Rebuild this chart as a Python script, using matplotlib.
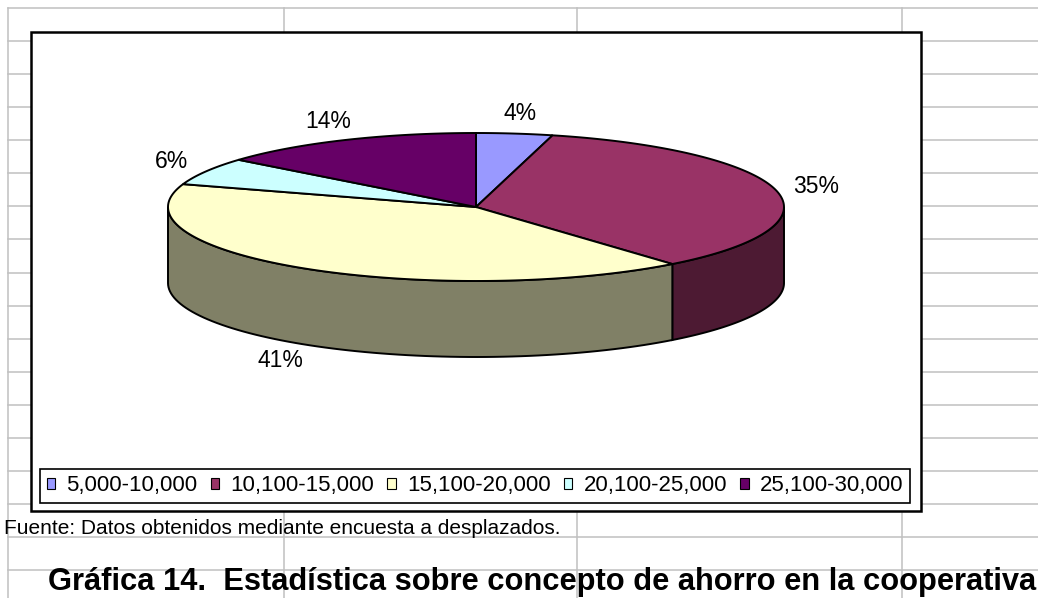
import numpy as np
import matplotlib.pyplot as plt
from matplotlib.patches import Polygon, Rectangle, Patch
from matplotlib.colors import to_rgb

plt.rcParams['font.family'] = ['Liberation Sans', 'DejaVu Sans']

# ---------------------- Data ----------------------
rangos = ["5,000-10,000", "10,100-15,000", "15,100-20,000", "20,100-25,000", "25,100-30,000"]
porcentajes = [4, 35, 41, 6, 14]
colores = ["#9999FF", "#993366", "#FFFFCC", "#CCFFFF", "#660066"]
fuente = "Fuente: Datos obtenidos mediante encuesta a desplazados."
titulo = "Gráfica 14.  Estadística sobre concepto de ahorro en la cooperativa"

# ---------------------- Canvas in pixel coordinates ----------------------
W, H = 1038, 598
fig = plt.figure(figsize=(W / 100, H / 100), dpi=100)
ax = fig.add_axes([0, 0, 1, 1])
ax.set_xlim(0, W)
ax.set_ylim(H, 0)
ax.axis('off')

# spreadsheet grid behind the chart
grid = "#C0C0C0"
for y in 8 + 33.07 * np.arange(18):
    ax.plot([8, W], [y, y], color=grid, lw=1.1, zorder=0)
for x in [8, 284, 577, 902]:
    ax.plot([x, x], [8, H], color=grid, lw=1.1, zorder=0)

# chart area
ax.add_patch(Rectangle((31, 32), 890, 479, facecolor='white', edgecolor='black', lw=1.8, zorder=1))

# ---------------------- 3D pie ----------------------
cx, cy, rx, ry, depth = 476, 207, 308, 74, 76

frac = np.array(porcentajes) / np.sum(porcentajes)
cum = np.concatenate([[0], np.cumsum(frac)])
starts = 90 - 360 * cum[:-1]   # clockwise from 12 o'clock
ends = 90 - 360 * cum[1:]


def ellipse(t, dy=0.0):
    t = np.radians(t)
    return np.column_stack([cx + rx * np.cos(t), cy - ry * np.sin(t) + dy])


# side walls (front half only)
for s, e, c in zip(starts, ends, colores):
    a, b = max(e, -180), min(s, 0)
    if b > a:
        t = np.linspace(b, a, 80)
        pts = np.vstack([ellipse(t), ellipse(t[::-1], depth)])
        dark = tuple(v * 0.5 for v in to_rgb(c))
        ax.add_patch(Polygon(pts, closed=True, facecolor=dark, edgecolor='black', lw=1.4, zorder=2))

# top faces
for s, e, c in zip(starts, ends, colores):
    t = np.linspace(s, e, 120)
    pts = np.vstack([[cx, cy], ellipse(t)])
    ax.add_patch(Polygon(pts, closed=True, facecolor=c, edgecolor='black', lw=1.4, zorder=3))

# percentage labels
for s, e, p in zip(starts, ends, porcentajes):
    m = np.radians((s + e) / 2)
    lx = cx + rx * 1.13 * np.cos(m)
    ly = cy - ry * 1.27 * np.sin(m) + (depth if np.sin(m) < 0 else 0)
    ax.text(lx, ly, f"{p}%", fontsize=16.5, ha='center', va='center', zorder=4)

# ---------------------- Legend ----------------------
handles = [Patch(facecolor=c, edgecolor='black', lw=0.8) for c in colores]
leg = fig.legend(handles, rangos, ncol=5, loc='center',
                 bbox_to_anchor=(475 / W, (H - 486) / H),
                 fontsize=16, handlelength=0.38, handleheight=0.38,
                 handletextpad=0.5, columnspacing=0.6, fancybox=False,
                 edgecolor='black', framealpha=1, borderpad=0.3,
                 borderaxespad=0)
leg.get_frame().set_linewidth(1.2)

# ---------------------- Source and caption ----------------------
ax.text(4, 528, fuente, fontsize=15, ha='left', va='center', zorder=4)
ax.text(48, 582, titulo, fontsize=22.2, fontweight='bold', ha='left', va='center', zorder=4)

fig.savefig('out.png', dpi=100)
